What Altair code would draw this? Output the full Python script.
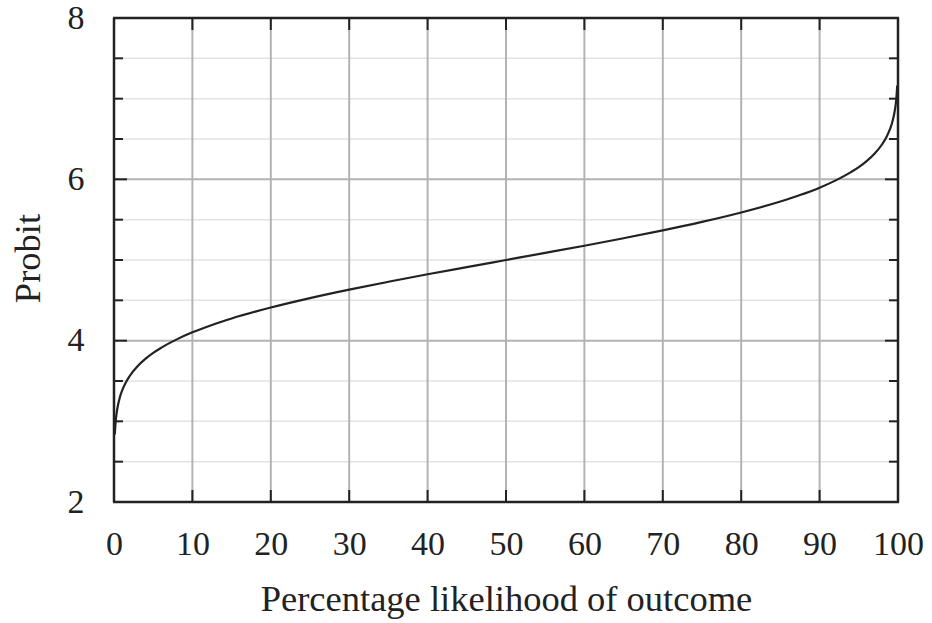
import altair as alt
import pandas as pd

# Values
pct = [0.1, 0.2, 0.3, 0.5, 0.75, 1, 1.5, 2, 3, 4, 5, 6, 8, 10, 12.5, 15, 20, 25,
       30, 35, 40, 45, 50, 55, 60, 65, 70, 75, 80, 85, 87.5, 90, 92, 94, 95, 96,
       97, 98, 98.5, 99, 99.25, 99.5, 99.7, 99.8, 99.9]
probit = [2.837, 2.985, 3.076, 3.197, 3.298, 3.372, 3.481, 3.562, 3.683, 3.774,
          3.849, 3.911, 4.016, 4.103, 4.195, 4.275, 4.411, 4.528, 4.633, 4.730,
          4.823, 4.912, 5.000, 5.088, 5.177, 5.270, 5.367, 5.472, 5.589, 5.725,
          5.805, 5.897, 5.984, 6.089, 6.151, 6.226, 6.317, 6.438, 6.519, 6.628,
          6.702, 6.803, 6.924, 7.015, 7.163]

x_ticks = [0, 10, 20, 30, 40, 50, 60, 70, 80, 90, 100]
x_grid = [10, 20, 30, 40, 50, 60, 70, 80, 90]
y_major = [2, 4, 6, 8]
y_major_grid = [4, 6]
y_minor = [2.5, 3, 3.5, 4.5, 5, 5.5, 6.5, 7, 7.5]

W, H = 784, 484
FONT = "Liberation Serif"
INK = "#222222"

curve = pd.DataFrame({"x": pct, "y": probit})
xs = alt.Scale(domain=[0, 100], nice=False)
ys = alt.Scale(domain=[2, 8], nice=False)

XAX = alt.Axis(values=x_ticks, ticks=False, domain=False, grid=False,
               labelFont=FONT, labelFontSize=34, labelColor=INK,
               labelFlush=False, labelOverlap=False, labelBound=False,
               labelPadding=25, titleFont=FONT, titleFontSize=36.5,
               titleFontWeight="normal", titleColor=INK, titlePadding=20)
YAX = alt.Axis(values=y_major, ticks=False, domain=False, grid=False,
               labelFont=FONT, labelFontSize=34, labelColor=INK,
               labelFlush=False, labelOverlap=False, labelBound=False,
               labelPadding=30, titleFont=FONT, titleFontSize=36.5,
               titleFontWeight="normal", titleColor=INK,
               titleX=-86, titleY=H / 2 - 2, titleAlign="center",
               titleBaseline="middle")


def X():
    return alt.X("x:Q", scale=xs, axis=XAX, title="Percentage likelihood of outcome")


def Y():
    return alt.Y("y:Q", scale=ys, axis=YAX, title="Probit")


xdf = pd.DataFrame({"x": x_ticks})
xgdf = pd.DataFrame({"x": x_grid})
ymdf = pd.DataFrame({"y": y_major})
ymgdf = pd.DataFrame({"y": y_major_grid})
yndf = pd.DataFrame({"y": y_minor})

line = alt.Chart(curve).mark_line(color=INK, strokeWidth=2.2, interpolate="monotone").encode(
    x=X(), y=Y())
minor_grid = alt.Chart(yndf).mark_rule(color="#e3e3e3", strokeWidth=1.5).encode(
    y=Y(), x=alt.value(0), x2=alt.value(W))
vgrid = alt.Chart(xgdf).mark_rule(color="#b3b3b3", strokeWidth=2).encode(
    x=X(), y=alt.value(0), y2=alt.value(H))
hgrid = alt.Chart(ymgdf).mark_rule(color="#b3b3b3", strokeWidth=2).encode(
    y=Y(), x=alt.value(0), x2=alt.value(W))

tick_style = dict(color=INK, strokeWidth=2)
bt = alt.Chart(xdf).mark_rule(**tick_style).encode(
    x=X(), y=alt.value(H), y2=alt.value(H - 12))
tt = alt.Chart(xdf).mark_rule(**tick_style).encode(
    x=X(), y=alt.value(0), y2=alt.value(12))
lt = alt.Chart(ymdf).mark_rule(**tick_style).encode(
    y=Y(), x=alt.value(0), x2=alt.value(13))
rt = alt.Chart(ymdf).mark_rule(**tick_style).encode(
    y=Y(), x=alt.value(W), x2=alt.value(W - 13))
lmt = alt.Chart(yndf).mark_rule(**tick_style).encode(
    y=Y(), x=alt.value(0), x2=alt.value(9))
rmt = alt.Chart(yndf).mark_rule(**tick_style).encode(
    y=Y(), x=alt.value(W), x2=alt.value(W - 9))

frame_style = dict(color=INK, strokeWidth=2.5)
one = pd.DataFrame({"k": [0]})
f_left = alt.Chart(one).mark_rule(**frame_style).encode(x=alt.value(0), y=alt.value(0), y2=alt.value(H))
f_right = alt.Chart(one).mark_rule(**frame_style).encode(x=alt.value(W), y=alt.value(0), y2=alt.value(H))
f_top = alt.Chart(one).mark_rule(**frame_style).encode(y=alt.value(0), x=alt.value(-1), x2=alt.value(W + 1))
f_bot = alt.Chart(one).mark_rule(**frame_style).encode(y=alt.value(H), x=alt.value(-1), x2=alt.value(W + 1))

chart = alt.layer(
    minor_grid, vgrid, hgrid, line, bt, tt, lt, rt, lmt, rmt,
    f_left, f_right, f_top, f_bot
).properties(
    width=W, height=H,
    autosize=alt.AutoSizeParams(type="none"),
    padding={"left": 114, "top": 18, "right": 34, "bottom": 121},
).configure_view(stroke=None).configure(background="white")

chart.save("out.html", embed_options={"renderer": "svg", "actions": False})
